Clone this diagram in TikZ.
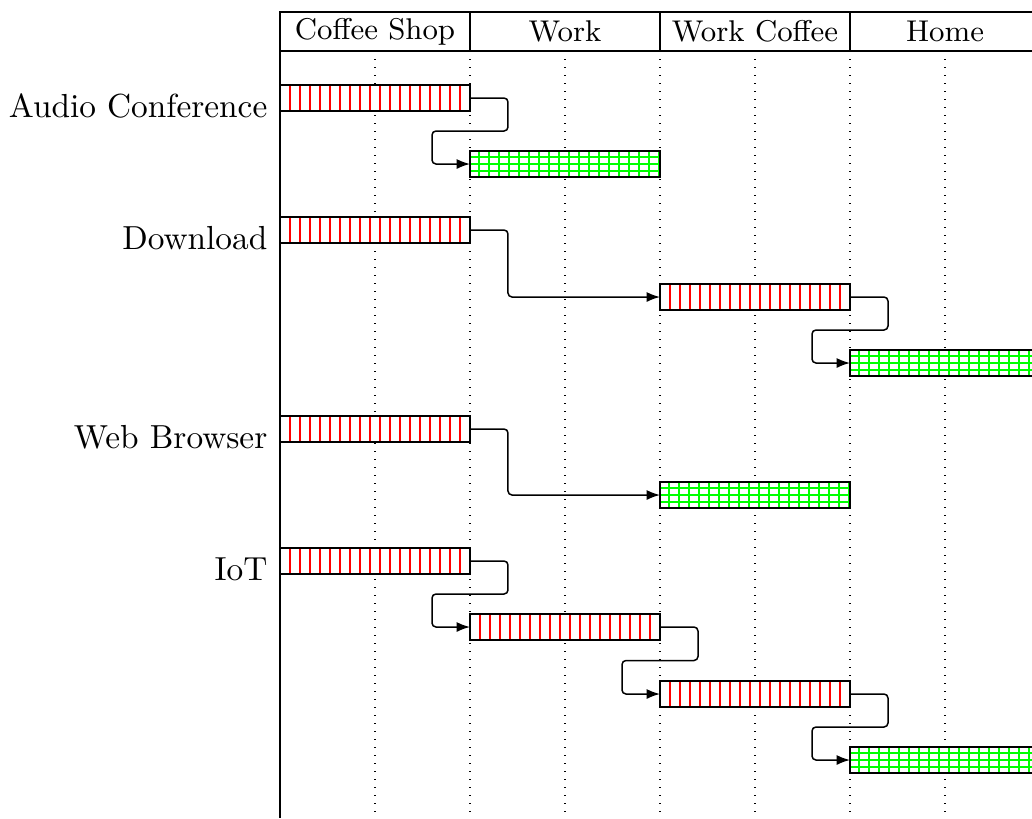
\documentclass[tikz,border=0pt]{standalone}
\usetikzlibrary{arrows.meta,calc}

\tikzset{
  bar/.style={draw, line width=0.45pt, minimum width=57pt, minimum height=7.8pt,
    inner sep=0pt, outer sep=0pt, fill=white},
  redbar/.style={bar, path picture={
    \foreach \k in {1,...,18}{
      \draw[red, line width=0.35pt]
        ([xshift=\k*3pt]path picture bounding box.south west) --
        ([xshift=\k*3pt]path picture bounding box.north west);}}},
  greenbar/.style={bar, path picture={
    \foreach \k in {0,...,18}{
      \draw[green, line width=0.35pt]
        ([xshift=2.7pt+\k*3pt]path picture bounding box.south west) --
        ([xshift=2.7pt+\k*3pt]path picture bounding box.north west);}
    \foreach \d in {1.8pt,3.9pt,6pt}{
      \draw[green, line width=0.35pt]
        ([yshift=-\d]path picture bounding box.north west) --
        ([yshift=-\d]path picture bounding box.north east);}}},
  hdr/.style={draw, line width=0.45pt, minimum width=57pt, minimum height=11.7pt,
    inner sep=0pt, outer sep=0pt, font=\small},
  rowlabel/.style={anchor=base east, inner sep=0pt},
  conn/.style={line width=0.45pt, rounded corners=1.2pt,
    -{Latex[length=4pt,width=3pt]}},
  gridline/.style={dotted, line width=0.4pt},
}

\begin{document}
\begin{tikzpicture}[x=0.3pt,y=-0.3pt]
  \useasboundingbox (0,0) rectangle (1032,818);
  \clip (0,0) rectangle (1032,818);

  % vertical grid
  \foreach \x in {375,470,565,660,755,850,945}
    \draw[gridline] (\x,51) -- (\x,818);
  \draw[line width=0.45pt] (280,12) -- (280,818);

  % header
  \node[hdr] (h1) at (375,31.5) {Coffee Shop};
  \node[hdr] (h2) at (565,31.5) {Work};
  \node[hdr] (h3) at (755,31.5) {Work Coffee};
  \node[hdr] (h4) at (945,31.5) {Home};

  % row labels
  \node[rowlabel] (lA) at (268,117.5) {Audio Conference};
  \node[rowlabel] (lD) at (268,249.5) {Download};
  \node[rowlabel] (lW) at (268,448.5) {Web Browser};
  \node[rowlabel] (lI) at (268,580.5) {IoT};

  % Audio Conference
  \node[redbar]   (a1) at (375,98) {};
  \node[greenbar] (a2) at (565,164) {};
  % Download
  \node[redbar]   (d1) at (375,230) {};
  \node[redbar]   (d2) at (755,297) {};
  \node[greenbar] (d3) at (945,363) {};
  % Web Browser
  \node[redbar]   (w1) at (375,429) {};
  \node[greenbar] (w2) at (755,495) {};
  % IoT
  \node[redbar]   (i1) at (375,561) {};
  \node[redbar]   (i2) at (565,627) {};
  \node[redbar]   (i3) at (755,694) {};
  \node[greenbar] (i4) at (945,760) {};

  % links between consecutive phases
  \draw[conn] (a1.east) -- ++(38,0) |- ($(a1.east)!.5!(a2.west)+(-38,0)$) |- (a2.west);
  \draw[conn] (d1.east) -- ++(38,0) |- (d2.west);
  \draw[conn] (d2.east) -- ++(38,0) |- ($(d2.east)!.5!(d3.west)+(-38,0)$) |- (d3.west);
  \draw[conn] (w1.east) -- ++(38,0) |- (w2.west);
  \draw[conn] (i1.east) -- ++(38,0) |- ($(i1.east)!.5!(i2.west)+(-38,0)$) |- (i2.west);
  \draw[conn] (i2.east) -- ++(38,0) |- ($(i2.east)!.5!(i3.west)+(-38,0)$) |- (i3.west);
  \draw[conn] (i3.east) -- ++(38,0) |- ($(i3.east)!.5!(i4.west)+(-38,0)$) |- (i4.west);
\end{tikzpicture}
\end{document}
